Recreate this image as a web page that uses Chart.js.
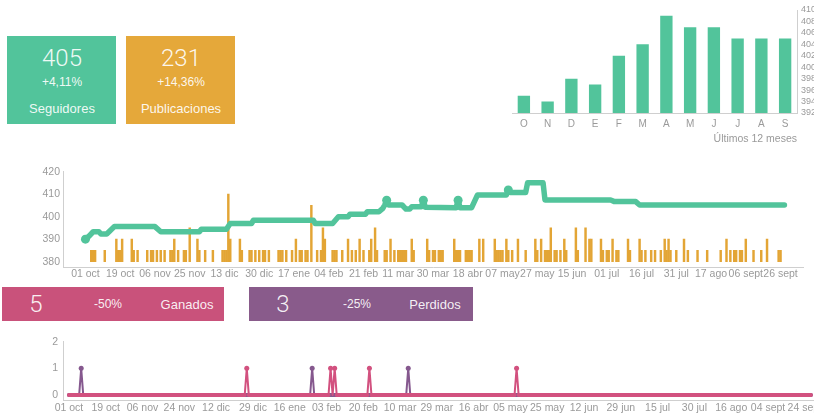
<!DOCTYPE html>
<html>
<head>
<meta charset="utf-8">
<script src="https://cdn.jsdelivr.net/npm/chart.js@4/dist/chart.umd.min.js"></script>
<style>
  html, body { margin: 0; padding: 0; width: 814px; height: 415px; overflow: hidden; background: #fff; }
  body { position: relative; font-family: "Liberation Sans", Arial, sans-serif; }
  canvas { position: absolute; }
  .box { position: absolute; color: rgba(255,255,255,0.92); }
  .box span { position: absolute; white-space: nowrap; transform: translate(-50%, -50%); }
  .big { font-family: Roboto, "Liberation Sans", sans-serif; font-weight: 300; font-size: 24px; }
  .pct { font-size: 12px; }
  .lbl { font-size: 13px; }
</style>
</head>
<body>

<div class="box" style="left:7px;top:36px;width:109px;height:88px;background:#52c49b">
  <span class="big" style="left:55px;top:22px">405</span>
  <span class="pct" style="left:55px;top:46px">+4,11%</span>
  <span class="lbl" style="left:55px;top:72px">Seguidores</span>
</div>
<div class="box" style="left:126px;top:36px;width:109px;height:88px;background:#e5a83a">
  <span class="big" style="left:55px;top:22px">231</span>
  <span class="pct" style="left:55px;top:46px">+14,36%</span>
  <span class="lbl" style="left:55px;top:72px">Publicaciones</span>
</div>

<canvas id="meses-chart" width="337" height="145" style="left:490px;top:0"></canvas>
<canvas id="seguidores-chart" width="830" height="122" style="left:0;top:160px"></canvas>

<div class="box" style="left:2px;top:287px;width:222px;height:34px;background:#c9527b">
  <span class="big" style="left:34px;top:17px">5</span>
  <span class="pct" style="left:106px;top:17px">-50%</span>
  <span class="lbl" style="left:185px;top:17px">Ganados</span>
</div>
<div class="box" style="left:249px;top:287px;width:224px;height:34px;background:#895b8b">
  <span class="big" style="left:34px;top:17px">3</span>
  <span class="pct" style="left:108px;top:17px">-25%</span>
  <span class="lbl" style="left:186px;top:17px">Perdidos</span>
</div>

<canvas id="balance-chart" width="840" height="85" style="left:0;top:330px"></canvas>

<script>
// Últimos 12 meses
const meses = ['O', 'N', 'D', 'E', 'F', 'M', 'A', 'M', 'J', 'J', 'A', 'S'];
const seguidoresMes = [395, 394, 398, 397, 402, 404, 409, 407, 407, 405, 405, 405];

// Evolución diaria: x = días desde el 01 oct
const pasoEtiquetas = 18;
const fechasSeguidores = ['01 oct', '19 oct', '06 nov', '25 nov', '13 dic', '30 dic', '17 ene', '04 feb', '21 feb', '11 mar',
  '30 mar', '18 abr', '07 may', '27 may', '15 jun', '01 jul', '16 jul', '31 jul', '17 ago', '06 sept', '26 sept'];
const ticksSeguidores = [380, 390, 400, 410, 420];

const seguidores = [
  [0, 390], [2, 391.5], [4, 393.3], [7, 393.3], [8, 392.3], [11, 392.3], [13, 394], [15, 395.6], [36, 395.6],
  [39, 393.3], [59, 393.3], [60, 394.4], [73, 394.4], [75, 397], [86, 397], [87, 398.4], [118, 398.4],
  [119, 397], [128, 397], [131, 400], [136, 400], [137, 401.1], [145, 401.1], [146, 402.2], [152, 402.2],
  [154, 403.7], [155, 405.2], [156, 407.3], [157, 405.2], [164, 405.2], [166, 403.4], [168, 403.4],
  [169, 404.4], [174, 404.4], [175, 407.3], [176, 404.2], [192, 404], [193, 407.3], [194, 404], [200, 404],
  [203, 409.6], [218, 409.6], [219, 411.9], [220, 410.8], [228, 410.8], [229, 415.1], [237, 415.1],
  [238, 407.4], [272, 407.4], [274, 406.7], [285, 406.7], [287, 405.2], [362, 405.2]
];
const puntosSeguidores = [[0, 390], [156, 407.3], [175, 407.3], [193, 407.3], [219, 411.9]];

const publicaciones = [
  [3, 385], [4, 385], [5, 385], [10, 385], [16, 390], [17, 385], [18, 385], [19, 390], [24, 390], [25, 385],
  [27, 385], [32, 385], [34, 385], [35, 385], [37, 385], [39, 385], [41, 385], [44, 385], [45, 385], [46, 390],
  [48, 385], [51, 385], [52, 385], [54, 395], [58, 390], [59, 385], [62, 385], [66, 385], [71, 385], [72, 385],
  [73, 385], [74, 410], [75, 390], [80, 390], [81, 385], [85, 385], [86, 385], [88, 385], [90, 385], [92, 385],
  [93, 385], [95, 385], [100, 385], [101, 385], [102, 385], [104, 385], [107, 385], [109, 390], [111, 385],
  [112, 385], [114, 385], [115, 385], [117, 405], [120, 385], [122, 385], [123, 395], [124, 390], [128, 385],
  [129, 385], [130, 385], [133, 385], [136, 390], [138, 385], [140, 385], [142, 390], [144, 385], [147, 385],
  [148, 390], [150, 395], [151, 385], [155, 385], [156, 385], [158, 390], [160, 385], [162, 385], [163, 385],
  [164, 385], [165, 385], [166, 385], [169, 390], [170, 385], [177, 390], [178, 385], [180, 385], [181, 385],
  [183, 385], [184, 385], [185, 385], [191, 390], [192, 385], [193, 385], [194, 385], [197, 385], [198, 385],
  [199, 385], [200, 385], [204, 390], [206, 390], [212, 390], [213, 385], [214, 385], [215, 385], [216, 385],
  [218, 390], [219, 385], [221, 385], [224, 390], [228, 385], [233, 390], [234, 385], [236, 390], [238, 385],
  [239, 385], [240, 385], [241, 395], [243, 385], [244, 385], [246, 385], [248, 390], [249, 385], [254, 395],
  [255, 385], [259, 395], [261, 390], [262, 390], [267, 390], [268, 385], [270, 385], [271, 385], [273, 390],
  [275, 385], [276, 385], [281, 390], [282, 385], [287, 390], [288, 385], [290, 385], [293, 385], [295, 385],
  [298, 385], [300, 390], [301, 385], [302, 390], [303, 385], [306, 385], [310, 390], [312, 385], [317, 385],
  [322, 385], [329, 385], [332, 390], [334, 385], [336, 385], [337, 385], [339, 385], [340, 385], [342, 390],
  [346, 385], [350, 385], [353, 390], [359, 385], [360, 385]
];

// Ganados / Perdidos por día
const fechasBalance = ['01 oct', '19 oct', '06 nov', '24 nov', '12 dic', '29 dic', '16 ene', '03 feb', '20 feb', '10 mar',
  '29 mar', '16 abr', '05 may', '25 may', '12 jun', '29 jun', '15 jul', '30 jul', '16 ago', '04 sept', '24 sept'];
const ticksBalance = [0, 1, 2];
const ganados = [
  [0, 0], [86, 0], [87, 1], [88, 0], [127, 0], [128, 1], [129, 0], [130, 1], [131, 0],
  [146, 0], [147, 1], [148, 0], [218, 0], [219, 1], [220, 0], [363, 0]
];
const perdidos = [
  [0, 0], [5, 0], [6, 1], [7, 0], [118, 0], [119, 1], [120, 0], [165, 0], [166, 1], [167, 0], [363, 0]
];

const verde = '#52c49b';
const naranja = '#e3a535';
const rosa = '#d2517f';
const morado = '#85588e';
const gris = '#9a9a9a';
const linea = '#cfcfcf';

const xy = arr => arr.map(([x, y]) => ({ x, y }));
const tickFont = { family: 'Liberation Sans', size: 10.5 };
const sinRejilla = { display: false, drawTicks: false };

// Barras de los últimos 12 meses
new Chart(document.getElementById('meses-chart'), {
    type: 'bar',
    data: {
        labels: meses,
        datasets: [{
            data: seguidoresMes,
            backgroundColor: verde,
            categoryPercentage: 0.52,
            barPercentage: 1
        }]
    },
    options: {
        responsive: false,
        animation: false,
        layout: { padding: { left: 22, top: 10 } },
        plugins: { legend: { display: false }, tooltip: { enabled: false } },
        scales: {
            x: {
                grid: sinRejilla,
                border: { color: linea },
                ticks: { color: gris, font: { family: 'Liberation Sans', size: 10 }, padding: 5 },
                title: { display: true, text: 'Últimos 12 meses', align: 'end', color: gris,
                         font: { family: 'Liberation Sans', size: 10.5 }, padding: { top: 1, bottom: 0 } },
                afterFit: s => { s.height = 32; }
            },
            y: {
                position: 'right',
                min: 392,
                max: 410,
                grid: sinRejilla,
                border: { color: linea },
                ticks: { stepSize: 2, autoSkip: false, color: gris, font: { family: 'Liberation Sans', size: 9 }, padding: 4 },
                afterFit: s => { s.width = 30; }
            }
        }
    }
});

// Seguidores diarios y publicaciones
new Chart(document.getElementById('seguidores-chart'), {
    type: 'line',
    data: {
        datasets: [
            {
                data: xy(puntosSeguidores),
                showLine: false,
                pointRadius: 4.5,
                pointBackgroundColor: verde,
                pointBorderWidth: 0,
                order: 0
            },
            {
                data: xy(seguidores),
                borderColor: verde,
                borderWidth: 5.5,
                borderCapStyle: 'round',
                borderJoinStyle: 'round',
                pointRadius: 0,
                tension: 0,
                order: 1
            },
            {
                type: 'bar',
                data: xy(publicaciones),
                backgroundColor: naranja,
                base: 380,
                barThickness: 1.8,
                order: 2
            }
        ]
    },
    options: {
        responsive: false,
        animation: false,
        layout: { padding: { top: 11.7, right: 27 } },
        plugins: { legend: { display: false }, tooltip: { enabled: false } },
        scales: {
            x: {
                type: 'linear',
                min: -2.5,
                max: 362.5,
                grid: sinRejilla,
                border: { color: linea },
                afterBuildTicks: s => { s.ticks = fechasSeguidores.map((_, i) => ({ value: i * pasoEtiquetas })); },
                ticks: {
                    autoSkip: false, maxRotation: 0, padding: 1, color: gris, font: tickFont,
                    callback: v => fechasSeguidores[Math.round(v / pasoEtiquetas)]
                },
                afterFit: s => { s.height = 15; }
            },
            y: {
                min: 377.64,
                max: 420,
                grid: sinRejilla,
                border: { color: linea },
                afterBuildTicks: s => { s.ticks = ticksSeguidores.map(v => ({ value: v })); },
                ticks: { color: gris, font: tickFont, padding: 3 },
                afterFit: s => { s.width = 63; }
            }
        }
    }
});

// Ganados y perdidos
const picos = color => ({
    borderColor: color,
    pointRadius: ctx => (ctx.raw && ctx.raw.y === 1 ? 2.5 : 0),
    pointBackgroundColor: color,
    pointBorderWidth: 0,
    borderCapStyle: 'round',
    borderJoinStyle: 'round',
    tension: 0,
    segment: {
        borderWidth: ctx => (ctx.p0.parsed.y === 0 && ctx.p1.parsed.y === 0 ? 4 : 2)
    }
});

new Chart(document.getElementById('balance-chart'), {
    type: 'line',
    data: {
        datasets: [
            Object.assign({ data: xy(ganados), borderWidth: 4 }, picos(rosa)),
            Object.assign({ data: xy(perdidos), borderWidth: 4 }, picos(morado))
        ]
    },
    options: {
        responsive: false,
        animation: false,
        layout: { padding: { top: 11.7, right: 26 } },
        plugins: { legend: { display: false }, tooltip: { enabled: false } },
        scales: {
            x: {
                type: 'linear',
                min: -2.9,
                max: 364.5,
                grid: sinRejilla,
                border: { color: linea },
                afterBuildTicks: s => { s.ticks = fechasBalance.map((_, i) => ({ value: i * pasoEtiquetas })); },
                ticks: {
                    autoSkip: false, maxRotation: 0, padding: 2, color: gris, font: tickFont,
                    callback: v => fechasBalance[Math.round(v / pasoEtiquetas)]
                },
                afterFit: s => { s.height = 15; }
            },
            y: {
                min: -0.19,
                max: 2,
                grid: sinRejilla,
                border: { color: linea },
                afterBuildTicks: s => { s.ticks = ticksBalance.map(v => ({ value: v })); },
                ticks: { color: gris, font: tickFont, padding: 5 },
                afterFit: s => { s.width = 63; }
            }
        }
    }
});
</script>
</body>
</html>
